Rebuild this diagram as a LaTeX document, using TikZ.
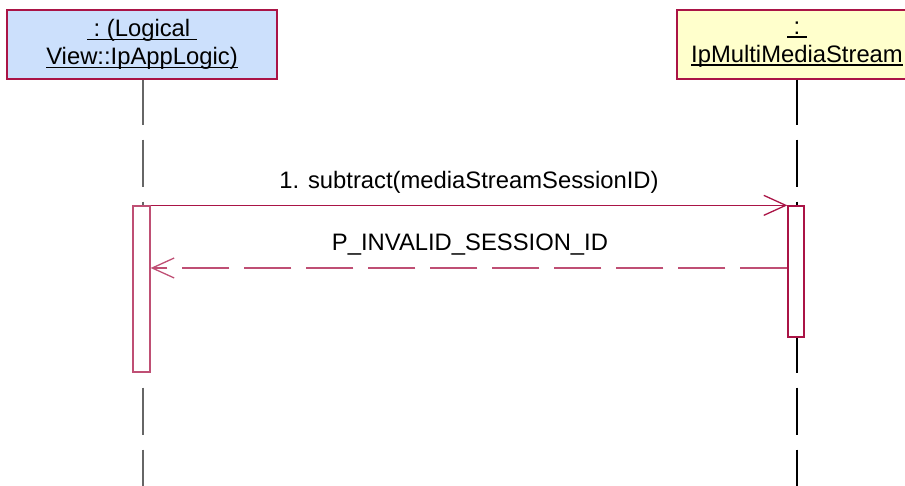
\documentclass[tikz,border=0pt]{standalone}
\usepackage{fontspec}
\setmainfont{Liberation Sans}
\usetikzlibrary{arrows.meta}
\definecolor{umlred}{RGB}{170,20,70}
\definecolor{bluefill}{RGB}{204,224,252}
\definecolor{yellowfill}{RGB}{255,255,204}
\newcommand\myul[1]{\setbox0\hbox{#1}\rlap{\rule[-3.6pt]{\wd0}{1.6pt}}\box0}
\begin{document}
\begin{tikzpicture}[x=1pt,y=-1pt,
 txt/.style={font=\fontsize{23.8}{29}\selectfont},
 objbox/.style={draw=umlred, line width=1.3pt, align=center, minimum height=69pt, inner sep=0pt, txt},
 actbox/.style={draw=umlred, fill=white, line width=1.3pt, inner sep=0pt},
 lifeline/.style={line width=1.3pt, dash pattern=on 47pt off 15pt, dash phase=2pt},
 msg/.style={draw=umlred, line width=1.3pt, -{Straight Barb[length=22pt,width=20pt]}},
 ret/.style={msg, draw=umlred!75, dash pattern=on 47pt off 15pt},
 lbl/.style={txt, anchor=base, inner sep=0pt}]
\useasboundingbox (0,0) rectangle (905,486);
\clip (0,0) rectangle (905,486);
% object boxes
\node[objbox, fill=bluefill, minimum width=270pt] (objA) at (142,44.5)
  {\myul{\ :\ (Logical\ }\\[-1pt]\myul{View::IpAppLogic)}};
\node[objbox, fill=yellowfill, minimum width=240pt] (objB) at (797,44.5)
  {\myul{\ :\ }\\[-1pt]\myul{IpMultiMediaStream}};
% lifeline ends
\coordinate (endA) at (143,486);
\coordinate (endB) at (797,486);
\draw[lifeline, draw=black!60] (objA.south -| endA) -- (endA);
\draw[lifeline, draw=black] (objB.south -| endB) -- (endB);
% activations
\node[actbox, draw=umlred!75, minimum width=17pt, minimum height=166pt] (actA) at (141.5,289) {};
\node[actbox, minimum width=16pt, minimum height=131pt] (actB) at (796,271.5) {};
% messages
\draw[msg] (actA.north east) -- (actB.north west);
\node[lbl] (m1) at (469,189) {1. subtract(mediaStreamSessionID)};
\draw[ret] (actB.west |- 0,268) -- (actA.east |- 0,268);
\node[lbl] (m2) at (470,251) {P\_INVALID\_SESSION\_ID};
\end{tikzpicture}
\end{document}
